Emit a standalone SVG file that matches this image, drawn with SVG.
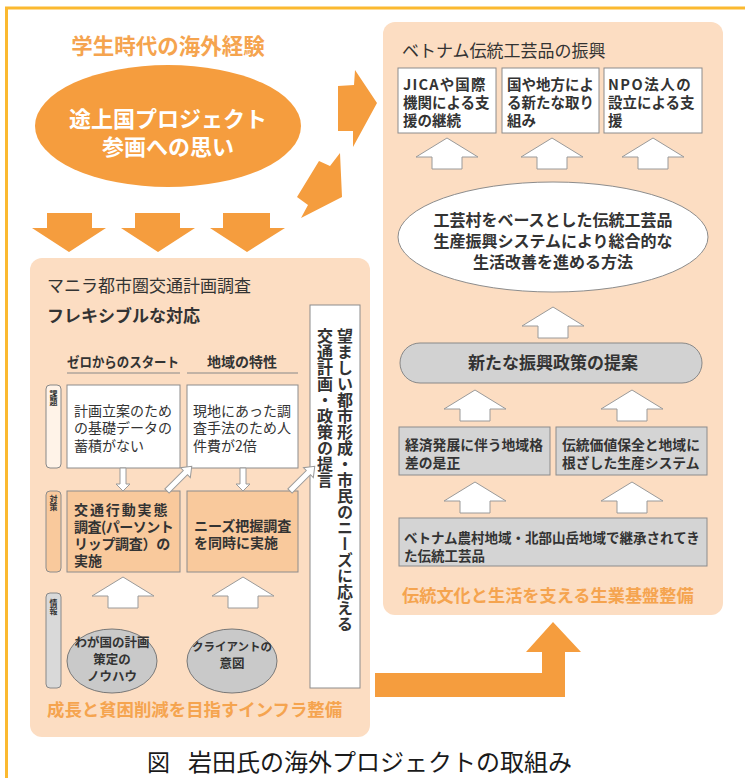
<svg xmlns="http://www.w3.org/2000/svg" width="745" height="778" viewBox="0 0 745 778">
<defs>
<style>
text{font-family:"Noto Sans CJK JP","Noto Sans",sans-serif;fill:#333}
.b{font-weight:bold}
.panel{fill:#FCDDC2}
.box{fill:#fff;stroke:#8c8c8c;stroke-width:1}
.obox{fill:#F9C99C;stroke:#8c8c8c;stroke-width:1}
.gbox{fill:#D4D4D4;stroke:#8c8c8c;stroke-width:1}
.org{fill:#F59D3E}
.otxt{fill:#F5A44F;font-weight:bold}
.hol{fill:#fff;stroke:#9a9a9a;stroke-width:1}
.vt{writing-mode:vertical-rl;font-weight:bold;font-size:16px}
.lbl{writing-mode:vertical-rl;font-weight:bold;font-size:8px}
</style>
<path id="up" d="M0,0 L31,19 L15,19 L15,31 L-15,31 L-15,19 L-31,19 Z"/>
<path id="thinUp" d="M-3,0 V-26 H-7 L0,-35 L7,-26 H3 V0 Z"/>
</defs>

<rect width="745" height="778" fill="#fff"/>
<!-- outer frame -->
<path d="M6.5,778 V8 H745" fill="none" stroke="#FBB930" stroke-width="3"/>

<g id="student">
<text x="168" y="54" class="otxt" font-size="21.5" text-anchor="middle">学生時代の海外経験</text>
<ellipse cx="168" cy="126" rx="133" ry="61" class="org"/>
<text font-size="22" class="b" text-anchor="middle" style="fill:#fff"><tspan x="168" y="127">途上国プロジェクト</tspan><tspan x="168" y="155">参画への思い</tspan></text>
</g>

<g id="connectors">
<!-- big down arrows -->
<polygon class="org" points="47,213 92,213 92,228 106,228 69,252 32,228 47,228"/>
<polygon class="org" points="135,213 180,213 180,228 195,228 158,252 121,228 135,228"/>
<polygon class="org" points="223,213 270,213 270,228 285,228 247,252 210,228 223,228"/>
<!-- arrows to right panel -->
<polygon class="org" points="338,86 354,85 355,70 377,103 353,147 353,131 338,131"/>
<polygon class="org" points="340,153 342,197 301,218 308,205 297,197 319,161 330,166"/>
<!-- big L arrow -->
<polygon class="org" points="375,673 542,673 542,652 526,652 553,622 581,652 565,652 565,697 375,697"/>
<!-- flexible arrow -->
<line x1="46" y1="331" x2="303" y2="331" stroke="#333" stroke-width="2"/>
<polyline points="277,321 303,331 277,341" fill="none" stroke="#333" stroke-width="2"/>
</g>

<g id="manila">
<rect x="30" y="258" width="340" height="479" rx="12" class="panel"/>
<text x="47" y="292" font-size="17">マニラ都市圏交通計画調査</text>
<text x="47" y="322" font-size="17" class="b">フレキシブルな対応</text>
<text x="67" y="367" font-size="13.5" class="b" textLength="112" lengthAdjust="spacingAndGlyphs">ゼロからのスタート</text>
<line x1="67" y1="373" x2="180" y2="373" stroke="#888"/>
<text x="242" y="367" font-size="14" class="b" text-anchor="middle">地域の特性</text>
<line x1="187" y1="373" x2="298" y2="373" stroke="#888"/>

<g id="labels">
<rect x="46" y="385" width="15" height="83" rx="4" fill="#FFF3E8" stroke="#888"/>
<text x="53.5" y="390" class="lbl">課題</text>
<rect x="46" y="491" width="15" height="81" rx="4" class="obox" stroke="#888"/>
<text x="53.5" y="495" class="lbl">対策</text>
<rect x="46" y="593" width="15" height="95" rx="4" fill="#D9D9D9" stroke="#888"/>
<text x="53.5" y="599" class="lbl">情報</text>
</g>

<g id="a1">
<rect x="67" y="385" width="113" height="83" class="box"/>
<text font-size="14"><tspan x="74" y="416">計画立案のため</tspan><tspan x="74" y="433">の基礎データの</tspan><tspan x="74" y="451">蓄積がない</tspan></text>
</g>
<g id="a2">
<rect x="187" y="385" width="111" height="83" class="box"/>
<text font-size="14"><tspan x="193" y="416">現地にあった調</tspan><tspan x="193" y="433">査手法のため人</tspan><tspan x="193" y="451">件費が2倍</tspan></text>
</g>
<g id="b1">
<rect x="67" y="491" width="113" height="81" class="obox"/>
<text font-size="14" class="b"><tspan x="74" y="515" letter-spacing="1.9">交通行動実態</tspan><tspan x="74" y="532" letter-spacing="-0.5">調査(パーソント</tspan><tspan x="74" y="549" letter-spacing="-0.3">リップ調査）の</tspan><tspan x="74" y="566">実施</tspan></text>
</g>
<g id="b2">
<rect x="187" y="491" width="111" height="81" class="obox"/>
<text font-size="14" class="b"><tspan x="194" y="531">ニーズ把握調査</tspan><tspan x="194" y="548">を同時に実施</tspan></text>
</g>
<g id="e1">
<ellipse cx="112" cy="661" rx="45" ry="32" fill="#C9C9C9" stroke="#777"/>
<text font-size="12.5" class="b" text-anchor="middle"><tspan x="112" y="647">わが国の計画</tspan><tspan x="112" y="664">策定の</tspan><tspan x="112" y="681">ノウハウ</tspan></text>
</g>
<g id="e2">
<ellipse cx="232" cy="661" rx="45" ry="32" fill="#C9C9C9" stroke="#777"/>
<text font-size="12.5" class="b" text-anchor="middle"><tspan x="232" y="651" font-size="11.5">クライアントの</tspan><tspan x="232" y="668">意図</tspan></text>
</g>
<g id="proposal">
<rect x="310" y="305" width="50" height="383" class="box"/>
<text x="345" y="328" class="vt">望ましい都市形成・市民のニーズに応える</text>
<text x="325" y="328" class="vt">交通計画・政策の提言</text>
</g>
<g id="smallArrows">
<path class="hol" d="M120,468 V484 H116 L123,491 L130,484 H126 V468 Z"/>
<path class="hol" d="M240,468 V484 H236 L243,491 L250,484 H246 V468 Z"/>
<use href="#thinUp" class="hol" transform="translate(167,491) rotate(45)"/>
<use href="#thinUp" class="hol" transform="translate(290,491) rotate(45)"/>
<use href="#up" class="hol" x="123" y="577"/>
<use href="#up" class="hol" x="243" y="577"/>
</g>
<text x="47" y="716" font-size="17.4" class="otxt">成長と貧困削減を目指すインフラ整備</text>
</g>

<g id="vietnam">
<rect x="383" y="22" width="340" height="593" rx="12" class="panel"/>
<text x="402" y="57" font-size="17">ベトナム伝統工芸品の振興</text>
<g id="t1">
<rect x="398" y="68" width="98" height="65" class="box"/>
<text font-size="14.5" class="b"><tspan x="403" y="90" letter-spacing="1.2">JICAや国際</tspan><tspan x="403" y="108">機関による支</tspan><tspan x="403" y="126">援の継続</tspan></text>
</g>
<g id="t2">
<rect x="502" y="68" width="97" height="65" class="box"/>
<text font-size="14.5" class="b"><tspan x="507" y="90">国や地方によ</tspan><tspan x="507" y="108">る新たな取り</tspan><tspan x="507" y="126">組み</tspan></text>
</g>
<g id="t3">
<rect x="604" y="68" width="98" height="65" class="box"/>
<text font-size="14.5" class="b"><tspan x="608" y="90" letter-spacing="1.5">NPO法人の</tspan><tspan x="608" y="108">設立による支</tspan><tspan x="608" y="126">援</tspan></text>
</g>
<g id="method">
<ellipse cx="553" cy="237" rx="155" ry="55" class="box"/>
<text font-size="16" class="b" text-anchor="middle"><tspan x="553" y="226">工芸村をベースとした伝統工芸品</tspan><tspan x="553" y="247">生産振興システムにより総合的な</tspan><tspan x="553" y="268">生活改善を進める方法</tspan></text>
</g>
<g id="policy">
<rect x="400" y="343" width="302" height="40" rx="20" fill="#D2D2D2" stroke="#888"/>
<text x="553" y="369" font-size="17" class="b" text-anchor="middle">新たな振興政策の提案</text>
</g>
<g id="g1">
<rect x="399" y="427" width="151" height="48" class="gbox"/>
<text font-size="13.8" class="b"><tspan x="405" y="450">経済発展に伴う地域格</tspan><tspan x="405" y="468">差の是正</tspan></text>
</g>
<g id="g2">
<rect x="556" y="427" width="151" height="48" class="gbox"/>
<text font-size="13.8" class="b"><tspan x="562" y="450">伝統価値保全と地域に</tspan><tspan x="562" y="468">根ざした生産システム</tspan></text>
</g>
<g id="g3">
<rect x="399" y="518" width="308" height="48" class="gbox"/>
<text font-size="13.5" class="b"><tspan x="404" y="543">ベトナム農村地域・北部山岳地域で継承されてき</tspan><tspan x="404" y="561">た伝統工芸品</tspan></text>
</g>
<g id="upArrows">
<use href="#up" class="hol" x="447" y="138"/>
<use href="#up" class="hol" x="552" y="138"/>
<use href="#up" class="hol" x="653" y="138"/>
<use href="#up" class="hol" x="553" y="307"/>
<use href="#up" class="hol" x="475" y="390"/>
<use href="#up" class="hol" x="632" y="390"/>
<use href="#up" class="hol" x="475" y="482"/>
<use href="#up" class="hol" x="632" y="482"/>
</g>
<text x="402" y="602" font-size="17.2" class="otxt">伝統文化と生活を支える生業基盤整備</text>
</g>

<g id="caption">
<text x="147" y="771" font-size="23" style="fill:#1a1a1a">図</text>
<text x="188" y="771" font-size="24" style="fill:#1a1a1a">岩田氏の海外プロジェクトの取組み</text>
</g>
</svg>
